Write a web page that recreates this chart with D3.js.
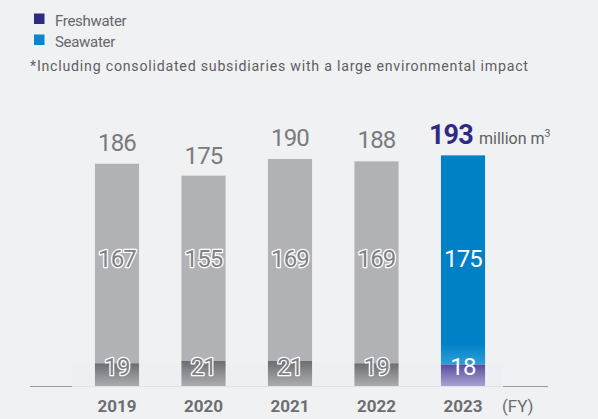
<!DOCTYPE html>
<html>
<head>
<meta charset="utf-8">
<script src="https://cdn.jsdelivr.net/npm/d3@7/dist/d3.min.js"></script>
<style>
  html, body { margin: 0; padding: 0; background: #f0f1f3; }
  svg { display: block; font-family: Roboto, "Noto Sans", sans-serif; }
</style>
</head>
<body>
<svg id="chart" width="598" height="419"></svg>
<script>
// Water withdrawal by fiscal year (million m3)
const years = ["2019", "2020", "2021", "2022", "2023"];
const seawater = [167, 155, 169, 169, 175];
const freshwater = [19, 21, 21, 19, 18];
const totals = [186, 175, 190, 188, 193];
const unitLabel = "million m";
const axisSuffix = "(FY)";
const legendItems = ["Freshwater", "Seawater"];
const footnote = "*Including consolidated subsidiaries with a large environmental impact";

const svg = d3.select("#chart");
const baseY = 386;

const x = d3.scaleBand()
  .domain(years)
  .range([73.75, 506.25])
  .paddingInner(0.49)
  .paddingOuter(0.245);

const y = d3.scaleLinear().domain([0, 200]).range([baseY, baseY - 239]);

// gradients
const defs = svg.append("defs");
function vGrad(id, stops) {
  const g = defs.append("linearGradient").attr("id", id)
    .attr("x1", 0).attr("y1", 0).attr("x2", 0).attr("y2", 1);
  stops.forEach(([o, c]) => g.append("stop").attr("offset", o).attr("stop-color", c));
}
vGrad("freshGray", [[0, "#6c6d70"], [0.45, "#8a8b8e"], [1, "#abacaf"]]);
vGrad("freshBlue", [[0, "#564c9c"], [0.45, "#7b74b5"], [1, "#a6a3d2"]]);
vGrad("seaBlue", [[0, "#0080c6"], [0.9, "#0080c6"], [1, "#2e9fd9"]]);

// baseline pieces and light band
svg.append("line").attr("x1", 30).attr("x2", 72).attr("y1", baseY + 0.5).attr("y2", baseY + 0.5)
  .attr("stroke", "#9a9b9e").attr("stroke-width", 1);
svg.append("line").attr("x1", 503).attr("x2", 548).attr("y1", baseY + 0.5).attr("y2", baseY + 0.5)
  .attr("stroke", "#9a9b9e").attr("stroke-width", 1);
svg.append("rect").attr("x", 72).attr("y", 363).attr("width", 431).attr("height", baseY - 363)
  .attr("fill", "#edf0f3");
svg.append("line").attr("x1", 72).attr("x2", 503).attr("y1", baseY + 0.5).attr("y2", baseY + 0.5)
  .attr("stroke", "#dfe2e6").attr("stroke-width", 1);

const last = years.length - 1;

// seawater segments
svg.append("g").selectAll("rect").data(years).join("rect")
  .attr("x", d => x(d))
  .attr("width", x.bandwidth())
  .attr("y", (d, i) => y(seawater[i] + freshwater[i]))
  .attr("height", (d, i) => y(freshwater[i]) - y(seawater[i] + freshwater[i]))
  .attr("fill", (d, i) => i === last ? "url(#seaBlue)" : "#b1b2b5");

// freshwater segments
svg.append("g").selectAll("rect").data(years).join("rect")
  .attr("x", d => x(d))
  .attr("width", x.bandwidth())
  .attr("y", (d, i) => y(freshwater[i]))
  .attr("height", (d, i) => y(0) - y(freshwater[i]))
  .attr("fill", (d, i) => i === last ? "url(#freshBlue)" : "url(#freshGray)");

const cx = d => x(d) + x.bandwidth() / 2;

// totals above bars
svg.append("g").selectAll("text").data(years.slice(0, last)).join("text")
  .attr("x", cx)
  .attr("y", (d, i) => y(totals[i]) - 13)
  .attr("text-anchor", "middle")
  .attr("font-size", 24)
  .attr("letter-spacing", -0.8)
  .attr("fill", "#7a7b7e")
  .text((d, i) => totals[i]);

// highlighted latest total with unit
svg.append("text")
  .attr("x", cx(years[last]) + 10)
  .attr("y", y(totals[last]) - 11)
  .attr("text-anchor", "end")
  .attr("font-size", 27)
  .attr("font-weight", 700)
  .attr("letter-spacing", -0.8)
  .attr("fill", "#2e2a86")
  .text(totals[last]);
const unit = svg.append("text")
  .attr("x", cx(years[last]) + 16)
  .attr("y", y(totals[last]) - 11)
  .attr("font-size", 16)
  .attr("fill", "#5e5f62");
unit.append("tspan").text(unitLabel);
unit.append("tspan").attr("font-size", 10.5).attr("dy", -7).text("3");

// inner value labels (outlined on grey bars, plain white on the latest bar)
function innerLabels(values, yPos) {
  const g = svg.append("g");
  g.selectAll("text").data(years).join("text")
    .attr("x", cx).attr("y", yPos)
    .attr("text-anchor", "middle")
    .attr("font-size", 24)
    .attr("letter-spacing", -0.8)
    .attr("fill", (d, i) => i === last ? "#ffffff" : "#808185")
    .attr("stroke", (d, i) => i === last ? "none" : "#ffffff")
    .attr("stroke-width", 2.6)
    .attr("stroke-linejoin", "round")
    .attr("paint-order", "stroke")
    .text((d, i) => values[i]);
}
innerLabels(seawater, 267);
innerLabels(freshwater, 375);

// x axis labels
svg.append("g").selectAll("text").data(years).join("text")
  .attr("x", cx).attr("y", 412)
  .attr("text-anchor", "middle")
  .attr("font-size", 17)
  .attr("font-weight", 700)
  .attr("fill", "#6d6e71")
  .text(d => d);
svg.append("text")
  .attr("x", 502).attr("y", 412)
  .attr("font-size", 17)
  .attr("fill", "#6d6e71")
  .text(axisSuffix);

// legend
const legendColors = ["#2e2a86", "#0a86c9"];
const lg = svg.append("g");
legendItems.forEach((name, i) => {
  lg.append("rect").attr("x", 34).attr("y", 13.5 + i * 21).attr("width", 10.5).attr("height", 10.5)
    .attr("fill", legendColors[i]);
  lg.append("text").attr("x", 55).attr("y", 25.5 + i * 21)
    .attr("font-size", 15).attr("letter-spacing", -0.3)
    .attr("fill", "#66676a").text(name);
});
svg.append("text").attr("x", 30).attr("y", 71)
  .attr("font-size", 14.2)
  .attr("textLength", 498).attr("lengthAdjust", "spacing")
  .attr("fill", "#5e5f62").text(footnote);
</script>
</body>
</html>
